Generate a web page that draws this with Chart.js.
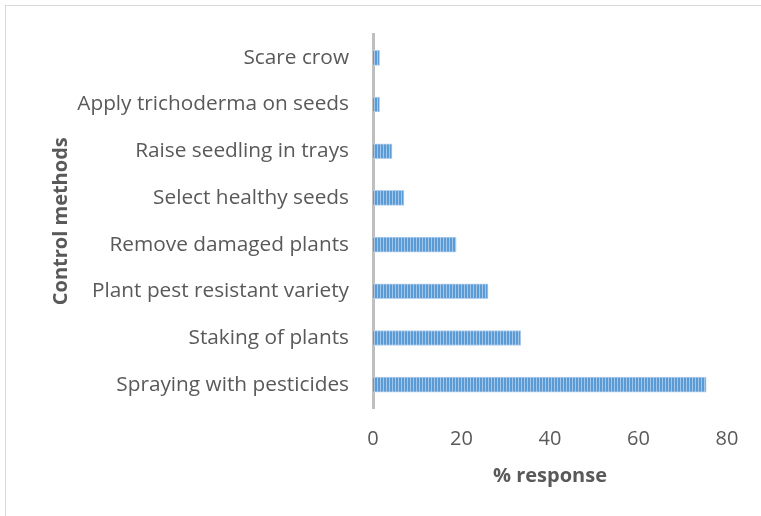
<!DOCTYPE html>
<html>
<head>
<meta charset="utf-8">
<script src="https://cdn.jsdelivr.net/npm/chart.js@4"></script>
<style>
  html, body { margin: 0; padding: 0; background: #fff; overflow: hidden; }
  #frame {
    position: absolute; left: 5px; top: 5px;
    width: 760px; height: 520px;
    border: 1px solid #d9d9d9; box-sizing: border-box;
  }
  #wrap { position: absolute; left: 0; top: 0; width: 755px; height: 510px; }
</style>
</head>
<body>
<div id="frame"><div id="wrap"><canvas id="c"></canvas></div></div>
<script>
// --- Data ---

const methods = [
  'Scare crow',
  'Apply trichoderma on seeds',
  'Raise seedling in trays',
  'Select healthy seeds',
  'Remove damaged plants',
  'Plant pest resistant variety',
  'Staking of plants',
  'Spraying with pesticides'
];
const responses = [1.5, 1.5, 4.3, 7.0, 18.8, 26.0, 33.4, 75.3];
const xTicks = [0, 20, 40, 60, 80];

// --- Striped bar fill ---

function stripePattern() {
  const p = document.createElement('canvas');
  p.width = 3; p.height = 4;
  const g = p.getContext('2d');
  g.fillStyle = '#5b9bd5';
  g.fillRect(0, 0, 2, 4);
  g.fillStyle = '#a4c6e8';
  g.fillRect(2, 0, 1, 4);
  return g.createPattern(p, 'repeat');
}

const FONT = "'Open Sans', sans-serif";
const GREY = '#595959';

new Chart(document.getElementById('c'), {
  type: 'bar',
  data: {
    labels: methods,
    datasets: [{
      data: responses,
      backgroundColor: stripePattern(),
      borderColor: '#b4d0ec',
      borderWidth: 1,
      borderSkipped: 'start',
      barThickness: 15
    }]
  },
  options: {
    indexAxis: 'y',
    responsive: true,
    maintainAspectRatio: false,
    animation: false,
    layout: { padding: { top: 26, right: 34, bottom: 28, left: 0 } },
    plugins: { legend: { display: false }, tooltip: { enabled: false } },
    scales: {
      x: {
        min: 0, max: 80,
        afterBuildTicks: s => { s.ticks = xTicks.map(v => ({ value: v })); },
        grid: { display: false },
        border: { display: false },
        ticks: { color: GREY, font: { family: FONT, size: 20 }, padding: 11 },
        title: {
          display: true, text: '% response', color: GREY,
          font: { family: FONT, size: 20, weight: 'bold' },
          padding: { top: 2, bottom: 0 }
        }
      },
      y: {
        afterFit: s => { s.width = 367; },
        grid: { display: false },
        border: { color: '#bfbfbf', width: 3 },
        ticks: { color: GREY, font: { family: FONT, size: 20.8 }, padding: 16 },
        title: {
          display: true, text: 'Control methods', color: GREY,
          font: { family: FONT, size: 20, weight: 'bold' },
          padding: { top: 43, bottom: 0 }
        }
      }
    }
  }
});
</script>
</body>
</html>
